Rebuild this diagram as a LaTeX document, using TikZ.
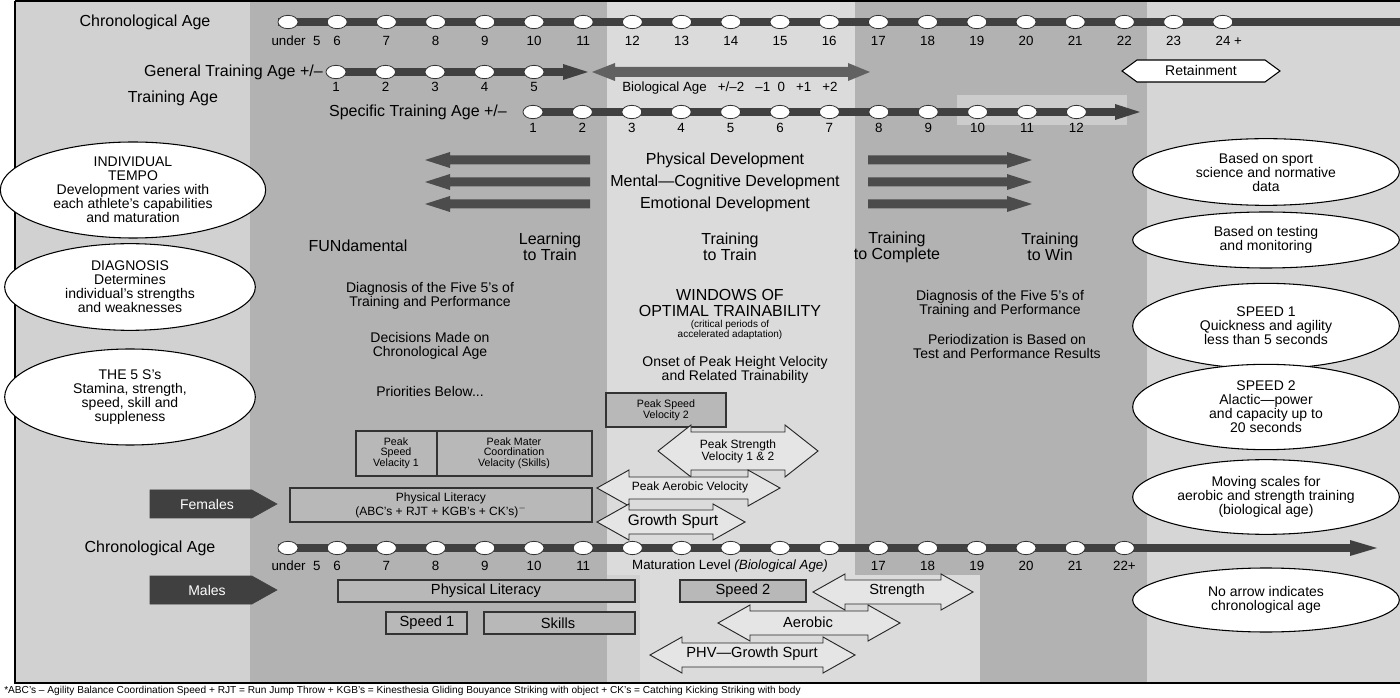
\documentclass[tikz,border=0pt]{standalone}
\usepackage{fontspec}
\setmainfont{Liberation Sans}
\usetikzlibrary{shapes.geometric}
\begin{document}
\newcommand\px[1]{\fontsize{#1}{#1}\selectfont}
\newcommand\dblarr[7]{%
\draw[dblsty] (#1,#3) -- (#1+#6,#3-#5) -- (#1+#6,#3-#4) -- (#2-#6,#3-#4) -- (#2-#6,#3-#5) -- (#2,#3) -- (#2-#6,#3+#5) -- (#2-#6,#3+#4) -- (#1+#6,#3+#4) -- (#1+#6,#3+#5) -- cycle;}
\begin{tikzpicture}[x=0.75pt,y=-0.75pt,
 bead/.style={ellipse,draw=black!80,fill=white,line width=0.6pt,minimum width=15pt,minimum height=10pt,inner sep=0pt},
 bar/.style={line width=6pt,draw=black!75},
 num/.style={font=\px{10pt},inner sep=0pt},
 big/.style={font=\px{12pt},align=center,inner sep=0pt},
 mid/.style={font=\px{10.5pt},align=center,inner sep=0pt},
 box/.style={draw=black!80,fill=black!28,line width=0.8pt},
 dblsty/.style={draw=black!85,fill=black!10,line width=0.7pt},
 oval/.style={ellipse,draw=black,fill=white,line width=0.8pt,align=center,font=\px{10.5pt},inner sep=0pt},
 dark/.style={fill=black!75,draw=black!75},
 gar/.style={fill=black!70}]
\useasboundingbox (0,0) rectangle (1400,698);
\fill[white] (0,0) rectangle (1400,698);
% backgrounds
\fill[black!18] (15,2) rectangle (1400,683);
\fill[black!30] (250,2) rectangle (607,683);
\fill[black!14] (607,2) rectangle (855,575);
\fill[black!30] (855,2) rectangle (1147,683);
\fill[black!16] (1147,2) rectangle (1400,683);
\fill[black!14] (640,575) rectangle (980,683);
\fill[black!20] (957,95) rectangle (1127,125);
\draw[line width=1.2pt] (15,1) -- (1400,1);
\draw[line width=1.2pt] (15,1) -- (15,683) -- (1400,683);
% top chronological age
\node[big] (tca) at (145,22) {Chronological Age};
\coordinate (t1) at (278,22); \coordinate (t2) at (1400,22);
\draw[bar] (t1) -- (t2);
\foreach \i in {0,...,19} \node[bead] (ca\i) at ({288+49.2*\i},22) {};
\foreach \t [count=\i from 0] in {under\ \ 5,6,7,8,9,10,11,12,13,14,15,16,17,18,19,20,21,22,23,24 +}
  \node[num] at ({288+49.2*\i+(\i==0?8:0)+(\i==19?6:0)},41) {\t};
% general training age
\node[big,anchor=east] (gta) at (323,72) {General Training Age +/--};
\coordinate (g1) at (330,72); \coordinate (g2) at (568,72);
\draw[bar] (g1) -- (g2);
\fill[black!75] (563,64) -- (588,72) -- (563,80) -- cycle;
\foreach \i in {0,...,4} {\node[bead] (gt\i) at ({336+49.5*\i},72) {}; \node[num] at ({336+49.5*\i},87) {\the\numexpr\i+1\relax};}
% biological age arrow
\fill[black!62] (592,72) -- (615,63) -- (615,67) -- (848,67) -- (848,63) -- (870,72) -- (848,81) -- (848,77) -- (615,77) -- (615,81) -- cycle;
\node[num] (bio) at (730,88) {Biological Age\ \ \ +/--2\ \ \ --1\ \ 0\ \ \ +1\ \ \ +2};
% retainment
\draw[fill=white,line width=0.8pt] (1122,71) -- (1137,60) -- (1265,60) -- (1280,71) -- (1265,82) -- (1137,82) -- cycle;
\node[mid] (ret) at (1201,71) {Retainment};
\node[big] (ta) at (173,98) {Training Age};
% specific training age
\node[big] (sta) at (418,112) {Specific Training Age +/--};
\coordinate (s1) at (526,112); \coordinate (s2) at (1120,112);
\draw[bar] (s1) -- (s2);
\fill[black!75] (1115,104) -- (1140,112) -- (1115,120) -- cycle;
\foreach \i in {0,...,11} {\node[bead] (st\i) at ({533+49.4*\i},112) {}; \node[num] at ({533+49.4*\i},128) {\the\numexpr\i+1\relax};}
% development arrows
\foreach \y in {160,182,204} {
 \fill[gar] (425,\y) -- (450,\y-8) -- (450,\y-4.5) -- (590,\y-4.5) -- (590,\y+4.5) -- (450,\y+4.5) -- (450,\y+8) -- cycle;
 \fill[gar] (1032,\y) -- (1007,\y-8) -- (1007,\y-4.5) -- (868,\y-4.5) -- (868,\y+4.5) -- (1007,\y+4.5) -- (1007,\y+8) -- cycle;}
\node[big] (pd) at (725,160) {Physical Development};
\node[big] (md) at (725,182) {Mental---Cognitive Development};
\node[big] (ed) at (725,204) {Emotional Development};
% left ovals
\node[oval,minimum width=199pt,minimum height=72pt] (o1) at (133,190) {INDIVIDUAL\\TEMPO\\Development varies with\\each athlete's capabilities\\and maturation};
\node[oval,minimum width=188pt,minimum height=65pt] (o2) at (130,287) {DIAGNOSIS\\Determines\\individual's strengths\\and weaknesses};
\node[oval,minimum width=188pt,minimum height=72pt] (o3) at (130,397) {THE 5 S's\\Stamina, strength,\\speed, skill and\\suppleness};
% right ovals
\node[oval,minimum width=200pt,minimum height=50pt] (r1) at (1266,172) {Based on sport\\science and normative\\data};
\node[oval,minimum width=200pt,minimum height=42pt] (r2) at (1266,240) {Based on testing\\and monitoring};
\node[oval,minimum width=200pt,minimum height=64pt] (r3) at (1266,326) {SPEED 1\\Quickness and agility\\less than 5 seconds};
\node[oval,minimum width=200pt,minimum height=64pt] (r4) at (1266,407) {SPEED 2\\Alactic---power\\and capacity up to\\20 seconds};
\node[oval,minimum width=200pt,minimum height=56pt] (r5) at (1266,497) {Moving scales for\\aerobic and strength training\\(biological age)};
\node[oval,minimum width=200pt,minimum height=48pt] (r6) at (1266,600) {No arrow indicates\\chronological age};
% stage headings
\node[big] (h1) at (358,246) {FUNdamental};
\node[big] (h2) at (550,247) {Learning\\to Train};
\node[big] (h3) at (730,247) {Training\\to Train};
\node[big] (h4) at (897,247) {Training\\to Complete};
\node[big] (h5) at (1050,247) {Training\\to Win};
% texts
\node[mid] (d1) at (430,296) {Diagnosis of the Five 5's of\\Training and Performance};
\node[mid] (d2) at (430,346) {Decisions Made on\\Chronological Age};
\node[mid] (d3) at (430,391) {Priorities Below...};
\node[font=\px{12pt},inner sep=0pt,align=center] (w1) at (730,303) {WINDOWS OF\\OPTIMAL TRAINABILITY};
\node[font=\px{7.5pt},inner sep=0pt,align=center] (w2) at (730,330) {(critical periods of\\accelerated adaptation)};
\node[mid] (phv) at (735,370) {Onset of Peak Height Velocity\\and Related Trainability};
\node[mid] (d4) at (1000,304) {Diagnosis of the Five 5's of\\Training and Performance};
\node[mid] (d5) at (1007,346) {Periodization is Based on\\Test and Performance Results};
% boxes
\draw[box] (606,393) rectangle (726,427);
\node[font=\px{8pt},align=center,inner sep=0pt] (psv2) at (666,410) {Peak Speed\\Velocity 2};
\draw[box] (356,431) rectangle (437,476);
\node[font=\px{8pt},align=center,inner sep=0pt] (psv1) at (396,453) {Peak\\Speed\\Velacity 1};
\draw[box] (437,431) rectangle (592,476);
\node[font=\px{8pt},align=center,inner sep=0pt] (pmc) at (514,453) {Peak Mater\\Coordination\\Velacity (Skills)};
\draw[box] (290,488) rectangle (592,522);
\node[font=\px{9pt},align=center,inner sep=0pt] (pl1) at (441,505) {Physical Literacy\\(ABC's + RJT + KGB's + CK's)$^-$};
\dblarr{658}{818}{451}{19}{26}{33}{}
\node[font=\px{9pt},align=center,inner sep=0pt] (psv12) at (738,451) {Peak Strength\\Velocity 1 \& 2};
\dblarr{597}{780}{488}{11}{18}{32}{}
\node[font=\px{9pt},inner sep=0pt] (pav) at (690,487) {Peak Aerobic Velocity};
\dblarr{597}{745}{522}{12}{18}{32}{}
\node[font=\px{11.5pt},inner sep=0pt] (gs) at (673,522) {Growth Spurt};
% females / males
\fill[dark] (150,490) -- (252,490) -- (277,504) -- (252,518) -- (150,518) -- cycle;
\node[font=\px{10.5pt},text=white,inner sep=0pt] (fem) at (207,504) {Females};
\fill[dark] (150,576) -- (252,576) -- (277,590) -- (252,604) -- (150,604) -- cycle;
\node[font=\px{10.5pt},text=white,inner sep=0pt] (mal) at (207,590) {Males};
% bottom chronological age
\node[big] (bca) at (150,548) {Chronological Age};
\coordinate (b1) at (278,548); \coordinate (b2) at (1355,548);
\draw[bar] (b1) -- (b2);
\fill[black!75] (1350,540) -- (1377,548) -- (1350,556) -- cycle;
\foreach \i in {0,...,17} \node[bead] (bb\i) at ({288+49.2*\i},548) {};
\foreach \t [count=\i from 0] in {under\ \ 5,6,7,8,9,10,11} \node[num] at ({288+49.2*\i+(\i==0?8:0)},566) {\t};
\foreach \t [count=\i from 12] in {17,18,19,20,21,22+} \node[num] at ({288+49.2*\i},566) {\t};
\node[num] (mat) at (730,566) {Maturation Level \textit{(Biological Age)}};
% male bars
\draw[box] (338,580) rectangle (635,602);
\node[font=\px{11pt},inner sep=0pt] (pl2) at (486,591) {Physical Literacy};
\draw[box] (680,580) rectangle (806,602);
\node[font=\px{11pt},inner sep=0pt] (sp2) at (743,591) {Speed 2};
\dblarr{813}{973}{592}{12}{18}{32}{}
\node[font=\px{11pt},inner sep=0pt] (str) at (897,591) {Strength};
\draw[box] (386,612) rectangle (467,634);
\node[font=\px{11pt},inner sep=0pt] (sp1) at (427,623) {Speed 1};
\draw[box] (484,612) rectangle (635,634);
\node[font=\px{11pt},inner sep=0pt] (sk) at (558,623) {Skills};
\dblarr{718}{900}{623}{12}{18}{32}{}
\node[font=\px{11pt},inner sep=0pt] (aer) at (808,622) {Aerobic};
\dblarr{650}{855}{655}{12}{18}{32}{}
\node[font=\px{11pt},inner sep=0pt] (phvg) at (752,654) {PHV---Growth Spurt};
% footnote
\node[font=\px{7.6pt},anchor=west,inner sep=0pt] (fn) at (4,691) {*ABC's -- Agility Balance Coordination Speed + RJT = Run Jump Throw + KGB's = Kinesthesia Gliding Bouyance Striking with object + CK's = Catching Kicking Striking with body};
\end{tikzpicture}
\end{document}
